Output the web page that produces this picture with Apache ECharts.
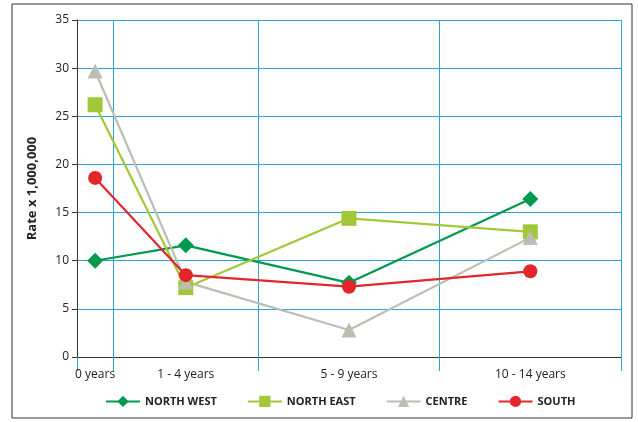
<!DOCTYPE html>
<html><head><meta charset="utf-8">
<script src="https://cdn.jsdelivr.net/npm/echarts@6/dist/echarts.min.js"></script>
<style>body{margin:0}#c{width:638px;height:422px}</style></head>
<body><div id="c"></div>
<script>
// age group midpoints on a 0-15 year axis
var agePos = [0.5, 3, 7.5, 12.5];
var ageLabels = ['0 years', '1 - 4 years', '5 - 9 years', '10 - 14 years'];
var gridYears = [0, 1, 5, 10, 15];
var northWest = [10, 11.6, 7.7, 16.4];
var northEast = [26.2, 7.2, 14.4, 13];
var centre = [29.7, 7.8, 2.8, 12.4];
var south = [18.6, 8.5, 7.3, 8.9];

function pts(arr){
	return arr.map(function(v, i){ return [agePos[i], v]; });
}
function mk(name, data, color, symbol, size){
	return {name:name, type:'line', data:pts(data), symbol:symbol, symbolSize:size,
		lineStyle:{color:color, width:2.2}, itemStyle:{color:color}};
}
var blue = '#29a3db';
var myChart = echarts.init(document.getElementById('c'));
myChart.setOption({
	animation:false,
	graphic:[{type:'rect', shape:{x:12, y:4, width:620, height:414},
		style:{fill:'none', stroke:'#333', lineWidth:1}}],
	grid:{left:77, right:17, top:20, bottom:65},
	legend:{bottom:10, left:100, itemGap:30, itemWidth:34, itemHeight:14,
		textStyle:{fontFamily:'Open Sans', fontWeight:'bold', fontSize:11, color:'#222'}},
	xAxis:{type:'value', min:0, max:15,
		axisLine:{lineStyle:{color:'#333'}},
		axisTick:{customValues:gridYears, length:14, lineStyle:{color:blue}},
		splitLine:{show:true, lineStyle:{color:blue}},
		axisLabel:{customValues:agePos, margin:12, fontFamily:'Open Sans', fontSize:12, color:'#222',
			formatter:function(v){ return ageLabels[agePos.indexOf(v)]; }}},
	yAxis:{type:'value', min:0, max:35, interval:5,
		name:'Rate x 1,000,000', nameLocation:'middle', nameGap:38,
		nameTextStyle:{fontFamily:'Open Sans', fontWeight:'bold', fontSize:13, color:'#222'},
		axisLine:{show:true, lineStyle:{color:'#333'}},
		axisTick:{show:true, lineStyle:{color:'#333'}},
		splitLine:{lineStyle:{color:blue}},
		axisLabel:{fontFamily:'Open Sans', fontSize:12, color:'#222'}},
	series:[
		mk('NORTH WEST', northWest, '#00994d', 'diamond', 16),
		mk('NORTH EAST', northEast, '#a2c83a', 'rect', 15),
		mk('CENTRE', centre, '#bdbdb3', 'triangle', 15),
		mk('SOUTH', south, '#e3262b', 'circle', 14)
	]
});
</script></body></html>
